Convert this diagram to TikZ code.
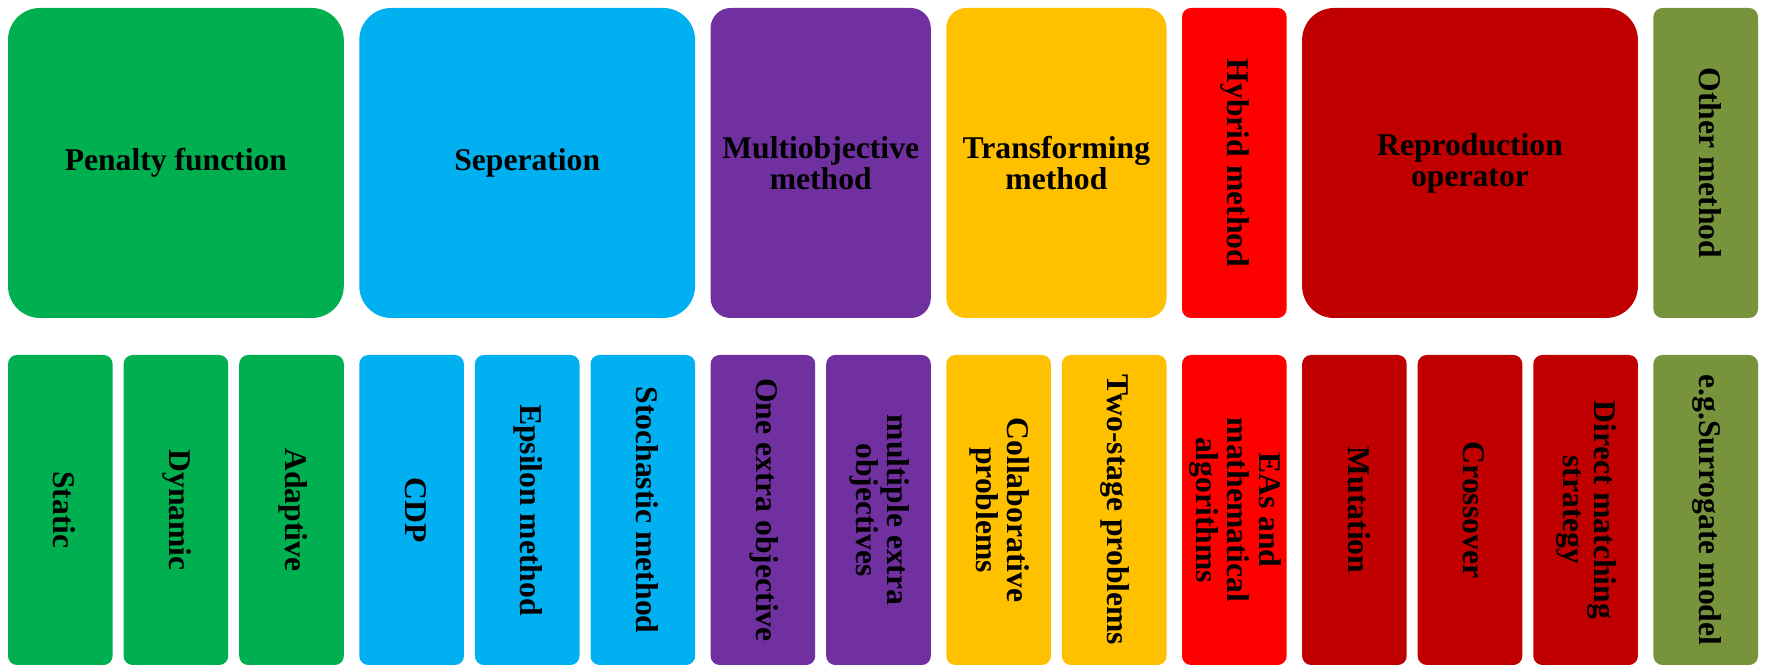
\documentclass[tikz,border=0pt]{standalone}
\usepackage{fontspec}
\setmainfont{Liberation Serif}
\usepackage{graphicx}
\usetikzlibrary{positioning}

\definecolor{penaltygreen}{HTML}{00B050}
\definecolor{sepblue}{HTML}{00B0F0}
\definecolor{multipurple}{HTML}{7030A0}
\definecolor{transyellow}{HTML}{FFC000}
\definecolor{hybridred}{HTML}{FF0000}
\definecolor{reprodred}{HTML}{C00000}
\definecolor{otherolive}{HTML}{77933C}

\newcommand{\vtext}[1]{\rotatebox{-90}{\begin{tabular}{@{}c@{}}#1\end{tabular}}}

\begin{document}
\begin{tikzpicture}[
    cell/.style={inner sep=0pt, outer sep=0pt, minimum height=3.1cm, align=center, text=black,
                 font=\fontsize{9}{8.8}\selectfont\bfseries},
    leaf/.style={cell, minimum width=1.046cm, rounded corners=0.09cm},
    wide3/.style={cell, minimum width=3.358cm, rounded corners=0.32cm},
    wide2/.style={cell, minimum width=2.202cm, rounded corners=0.2cm},
  ]
  \useasboundingbox (0,0) rectangle (17.67,-6.65);

  % top row: families
  \node [wide3, fill=penaltygreen, anchor=north west] (penalty) at (0.08,-0.08) {Penalty function};
  \node [wide3, fill=sepblue, right=0.155cm of penalty] (seperation) {Seperation};
  \node [wide2, fill=multipurple, right=0.155cm of seperation] (multiobj) {Multiobjective\\method};
  \node [wide2, fill=transyellow, right=0.155cm of multiobj] (transform) {Transforming\\method};
  \node [leaf, fill=hybridred, right=0.155cm of transform] (hybrid) {\vtext{Hybrid method}};
  \node [wide3, fill=reprodred, right=0.155cm of hybrid] (reprod) {Reproduction\\operator};
  \node [leaf, fill=otherolive, right=0.155cm of reprod] (other) {\vtext{Other method}};

  % bottom row: members
  \node [leaf, fill=penaltygreen, below=0.37cm of penalty.south west, anchor=north west] (static) {\vtext{Static}};
  \node [leaf, fill=penaltygreen, right=0.11cm of static] (dynamic) {\vtext{Dynamic}};
  \node [leaf, fill=penaltygreen, right=0.11cm of dynamic] (adaptive) {\vtext{Adaptive}};
  \node [leaf, fill=sepblue, right=0.155cm of adaptive] (cdp) {\vtext{CDP}};
  \node [leaf, fill=sepblue, right=0.11cm of cdp] (epsilon) {\vtext{Epsilon method}};
  \node [leaf, fill=sepblue, right=0.11cm of epsilon] (stochastic) {\vtext{Stochastic method}};
  \node [leaf, fill=multipurple, right=0.155cm of stochastic] (oneextra) {\vtext{One extra objective}};
  \node [leaf, fill=multipurple, right=0.11cm of oneextra] (multiextra) {\vtext{multiple extra\\objectives}};
  \node [leaf, fill=transyellow, right=0.155cm of multiextra] (collab) {\vtext{Collaborative\\problems}};
  \node [leaf, fill=transyellow, right=0.11cm of collab] (twostage) {\vtext{Two-stage problems}};
  \node [leaf, fill=hybridred, right=0.155cm of twostage] (easmath) {\vtext{EAs and\\mathematical\\algorithms}};
  \node [leaf, fill=reprodred, right=0.155cm of easmath] (mutation) {\vtext{Mutation}};
  \node [leaf, fill=reprodred, right=0.11cm of mutation] (crossover) {\vtext{Crossover}};
  \node [leaf, fill=reprodred, right=0.11cm of crossover] (direct) {\vtext{Direct matching\\strategy}};
  \node [leaf, fill=otherolive, right=0.155cm of direct] (surrogate) {\vtext{e.g.Surrogate model}};
\end{tikzpicture}
\end{document}
